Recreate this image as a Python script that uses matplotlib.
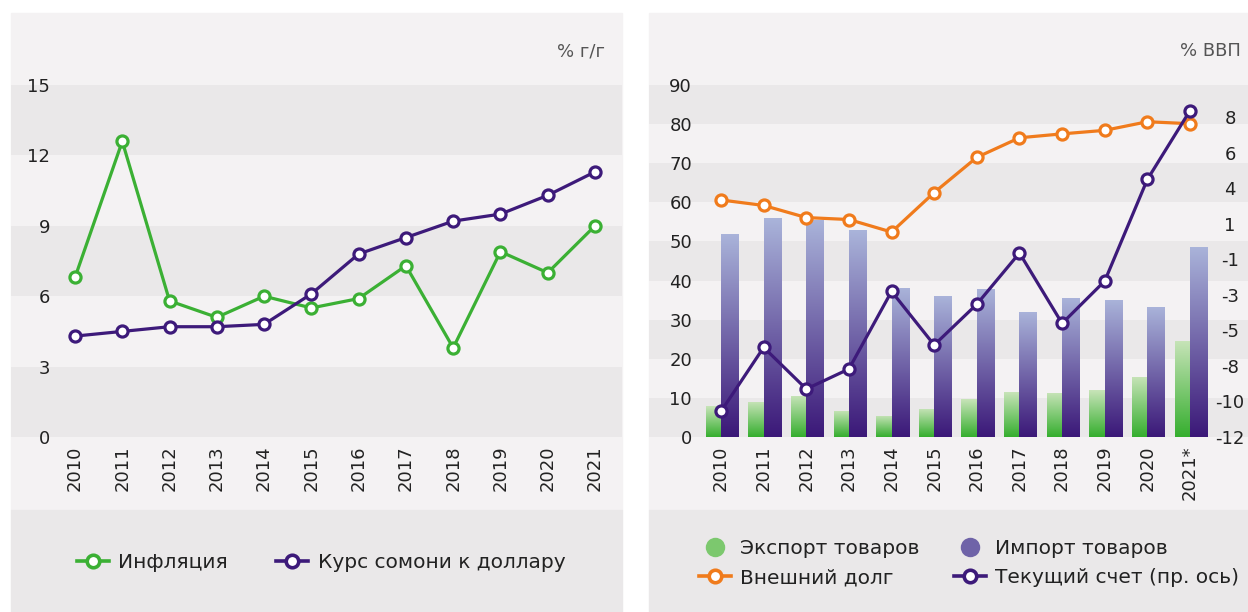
import numpy as np
import matplotlib.pyplot as plt
from matplotlib.patches import Rectangle
from matplotlib.lines import Line2D
from matplotlib.colors import LinearSegmentedColormap

plt.rcParams['font.family'] = ['DejaVu Sans']

# данные
years = ['2010', '2011', '2012', '2013', '2014', '2015',
         '2016', '2017', '2018', '2019', '2020', '2021']
inflation = [6.8, 12.6, 5.8, 5.1, 6.0, 5.5, 5.9, 7.3, 3.8, 7.9, 7.0, 9.0]
somoni = [4.3, 4.5, 4.7, 4.7, 4.8, 6.1, 7.8, 8.5, 9.2, 9.5, 10.3, 11.3]

years_r = ['2010', '2011', '2012', '2013', '2014', '2015',
           '2016', '2017', '2018', '2019', '2020', '2021*']
exports = [7.9, 9.0, 10.5, 6.7, 5.4, 7.2, 9.7, 11.5, 11.3, 12.0, 15.4, 24.6]
imports = [52.0, 55.9, 55.6, 52.8, 38.2, 36.1, 37.9, 32.0, 35.6, 35.1, 33.3, 48.7]
ext_debt = [60.6, 59.2, 56.1, 55.6, 52.4, 62.5, 71.5, 76.5, 77.5, 78.4, 80.6, 80.1]
current_acc = [-10.4, -6.4, -9.0, -7.75, -2.9, -6.25, -3.7, -0.5, -4.9, -2.25, 4.1, 8.4]

LIGHT = '#f4f2f3'
DARK = '#eae8e9'
GREEN = '#3bb034'
PURPLE = '#3d1a7a'
ORANGE = '#f07b1c'
TXT = '#222222'

W, H = 1248, 612
fig = plt.figure(figsize=(12.48, 6.12), dpi=100)


def fx(x):
    return x / W


def fy(y):
    return 1 - y / H


# фон панелей
for x0, x1 in [(11, 622), (649, 1248)]:
    fig.patches.append(Rectangle((fx(x0), fy(510)), fx(x1) - fx(x0), fy(13) - fy(510),
                                 transform=fig.transFigure, color=LIGHT, zorder=-5))
    fig.patches.append(Rectangle((fx(x0), 0), fx(x1) - fx(x0), fy(510),
                                 transform=fig.transFigure, color=DARK, zorder=-5))

line_kw = dict(lw=2.3, marker='o', ms=8, mfc='white', mew=2.3)
leg_kw = dict(lw=2.6, marker='o', ms=9, mfc='white', mew=2.6)

# ---------- левый график ----------
ax = fig.add_axes([fx(11), fy(437), fx(622) - fx(11), fy(13) - fy(437)])
ax.set_facecolor('none')
for lo in [0, 6, 12]:
    ax.axhspan(lo, lo + 3, color=DARK, lw=0, zorder=0)
x = np.arange(len(years))
ax.plot(x, inflation, color=GREEN, mec=GREEN, zorder=3, **line_kw)
ax.plot(x, somoni, color=PURPLE, mec=PURPLE, zorder=3, **line_kw)
ax.set_xlim(-1.354, 11.571)
ax.set_ylim(0, 18.07)
ax.set_yticks([0, 3, 6, 9, 12, 15])
ax.set_xticks(x)
ax.set_xticklabels(years, rotation=90)
ax.tick_params(axis='y', length=0, pad=-28, labelsize=13, labelcolor=TXT)
ax.tick_params(axis='x', length=0, pad=6, labelsize=13, labelcolor=TXT)
for s in ax.spines.values():
    s.set_visible(False)
fig.text(fx(605), fy(51), '% г/г', ha='right', va='center', color='#555555', fontsize=13)

h1 = Line2D([], [], color=GREEN, mec=GREEN, **leg_kw)
h2 = Line2D([], [], color=PURPLE, mec=PURPLE, **leg_kw)
fig.legend([h1, h2], ['Инфляция', 'Курс сомони к доллару'], ncol=2,
           loc='center', bbox_to_anchor=(fx(321), fy(563)), frameon=False,
           fontsize=14.5, handlelength=1.6, handletextpad=0.45, columnspacing=2.4,
           labelcolor=TXT)

# ---------- правый график ----------
bx = fig.add_axes([fx(649), fy(437), fx(1248) - fx(649), fy(13) - fy(437)])
bx.set_facecolor('none')
for lo in [0, 20, 40, 60, 80]:
    bx.axhspan(lo, lo + 10, color=DARK, lw=0, zorder=0)

xr = np.arange(len(years_r))
cmap_exp = LinearSegmentedColormap.from_list('exp', ['#35ae2e', '#c8e4b9'])
cmap_imp = LinearSegmentedColormap.from_list('imp', ['#3b1878', '#aab4da'])
grad = np.linspace(0, 1, 256).reshape(-1, 1)

bars_e = bx.bar(xr, exports, width=-0.36, align='edge', color='none', lw=0, zorder=1)
bars_i = bx.bar(xr, imports, width=0.42, align='edge', color='none', lw=0, zorder=1)
for bars, cm in [(bars_e, cmap_exp), (bars_i, cmap_imp)]:
    for b in bars:
        x0, y0 = b.get_xy()
        w, h = b.get_width(), b.get_height()
        im = bx.imshow(grad, extent=(x0, x0 + w, y0, y0 + h), origin='lower',
                       aspect='auto', cmap=cm, zorder=1)
        im.set_clip_path(b)

bx.plot(xr, ext_debt, color=ORANGE, mec=ORANGE, zorder=3, **line_kw)
bx.set_xlim(-1.689, 12.36)
bx.set_ylim(0, 108.4)
bx.set_yticks(range(0, 100, 10))
bx.set_xticks(xr)
bx.set_xticklabels(years_r, rotation=90)
bx.tick_params(axis='y', length=0, pad=-31, labelsize=13, labelcolor=TXT)
bx.tick_params(axis='x', length=0, pad=6, labelsize=13, labelcolor=TXT)
for s in bx.spines.values():
    s.set_visible(False)

bx2 = bx.twinx()
bx2.plot(xr, current_acc, color=PURPLE, mec=PURPLE, zorder=4, **line_kw)
bx2.set_ylim(-12, 14.5)
rt = np.linspace(-12, 8, 10)
bx2.set_yticks(rt)
bx2.set_yticklabels([str(int(round(v))) for v in rt])
bx2.tick_params(axis='y', length=0, pad=-13, labelsize=13, labelcolor=TXT)
for lbl in bx2.get_yticklabels():
    lbl.set_ha('center')
for s in bx2.spines.values():
    s.set_visible(False)
fig.text(fx(1241), fy(51), '% ВВП', ha='right', va='center', color='#555555', fontsize=13)

he = Line2D([], [], ls='none', marker='o', ms=14, mfc='#7cc86e', mec='none')
hi = Line2D([], [], ls='none', marker='o', ms=14, mfc='#6f63a8', mec='none')
hd = Line2D([], [], color=ORANGE, mec=ORANGE, **leg_kw)
hc = Line2D([], [], color=PURPLE, mec=PURPLE, **leg_kw)
fig.legend([he, hd, hi, hc],
           ['Экспорт товаров', 'Внешний долг', 'Импорт товаров', 'Текущий счет (пр. ось)'],
           ncol=2, loc='center', bbox_to_anchor=(fx(969), fy(563)), frameon=False,
           fontsize=14.5, handlelength=1.6, handletextpad=0.45, columnspacing=1.7,
           labelspacing=0.5, labelcolor=TXT)

fig.savefig('out.png', dpi=100)
